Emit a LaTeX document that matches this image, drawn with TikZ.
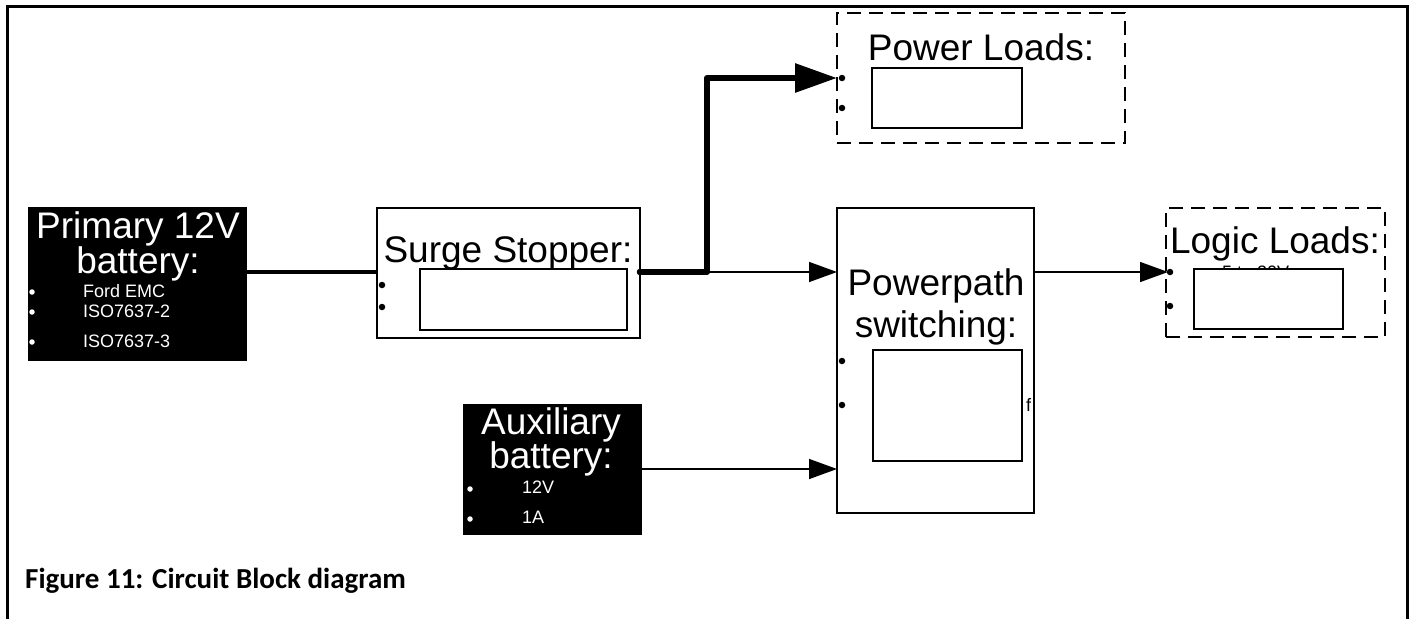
\documentclass[tikz,border=0pt]{standalone}
\usepackage{fontspec}
\setmainfont{Liberation Sans}
\newfontfamily\capfont{Carlito}
\usetikzlibrary{arrows.meta}
\begin{document}
\begin{tikzpicture}[x=1pt,y=-1pt,
  blk/.style={fill=black, draw=none, inner sep=0pt, outer sep=0pt, anchor=north west},
  box/.style={draw, line width=1.4pt, fill=white, inner sep=0pt, outer sep=0pt, anchor=north west},
  dbox/.style={draw, line width=1.8pt, dash pattern=on 14pt off 8pt, inner sep=0pt, outer sep=0pt, anchor=north west},
  ttl/.style={font=\fontsize{37}{37}\selectfont, anchor=base, inner sep=0pt},
  sml/.style={font=\fontsize{18}{18}\selectfont, anchor=base west, inner sep=0pt},
  pinpt/.style={circle, fill=black, minimum size=6.5pt, inner sep=0pt},
  bul/.style={circle, fill=white, minimum size=5.5pt, inner sep=0pt},
  wire/.style={line width=1.5pt},
  arr/.style={-{Triangle[length=28pt,width=20pt]}},
  bigarr/.style={-{Triangle[length=42pt,width=28pt]}}
]
\useasboundingbox (0,0) rectangle (1413,619);
% frame
\draw[line width=3pt] (7.5,619) -- (7.5,6) -- (1407,6) -- (1407,619);

% primary battery
\node[blk, minimum width=219pt, minimum height=154pt] (prim) at (28,207) {};
\node[ttl, text=white] (primt1) at (138,238) {Primary 12V};
\node[ttl, text=white] (primt2) at (138,273) {battery:};
\node[bul] (pb1) at (32,292) {};
\node[bul] (pb2) at (32,312) {};
\node[bul] (pb3) at (32,342) {};
\node[sml, text=white] (ps1) at (83,297) {Ford EMC};
\node[sml, text=white] (ps2) at (83,317) {ISO7637-2};
\node[sml, text=white] (ps3) at (83,347) {ISO7637-3};

% auxiliary battery
\node[blk, minimum width=179pt, minimum height=131pt] (aux) at (463,404) {};
\node[ttl, text=white] (auxt1) at (551,434) {Auxiliary};
\node[ttl, text=white] (auxt2) at (551,468) {battery:};
\node[bul] (ab1) at (470,489) {};
\node[bul] (ab2) at (470,519) {};
\node[sml, text=white] (as1) at (522,493) {12V};
\node[sml, text=white] (as2) at (522,523) {1A};

% surge stopper
\node[box, minimum width=263pt, minimum height=130pt] (surge) at (377,208) {};
\node[box, minimum width=207pt, minimum height=61pt] (surgein) at (420,269) {};
\node[ttl] (surget) at (508,262) {Surge Stopper:};
\node[pinpt] (sp1) at (382,285) {};
\node[pinpt] (sp2) at (382,307) {};

% power loads
\node[dbox, minimum width=288pt, minimum height=130pt] (powl) at (837,13) {};
\node[box, minimum width=150pt, minimum height=60pt] (powlin) at (872,68) {};
\node[ttl] (powlt) at (981,60) {Power Loads:};

% powerpath
\node[box, minimum width=197pt, minimum height=305pt] (pp) at (837,208) {};
\node[box, minimum width=149pt, minimum height=111pt] (ppin) at (873,350) {};
\node[ttl] (ppt1) at (936,295) {Powerpath};
\node[ttl] (ppt2) at (936,337) {switching:};
\node[pinpt] (pq1) at (842,361) {};
\node[pinpt] (pq2) at (842,405) {};
\node[sml] (ppf) at (1026,411) {f};

% logic loads
\node[dbox, minimum width=219pt, minimum height=129pt] (logl) at (1166,208) {};
\node[sml] (loglv) at (1222,278) {5 to 20V};
\node[box, minimum width=149pt, minimum height=60pt] (loglin) at (1194,269) {};
\node[ttl] (loglt) at (1275,253) {Logic Loads:};

% connection coordinates
\coordinate (j) at (707,272);
\coordinate (sout) at (640,272);
\coordinate (pwin) at (837,78);
\coordinate (ppin1) at (837,272);
\coordinate (ppin2) at (837,469);
\coordinate (lgin) at (1168,272);

% connectors
\draw[line width=4.5pt] (prim.east |- j) -- (surge.west |- j);
\draw[line width=6pt, line join=round, line cap=round, bigarr] (sout) -- (j) |- (pwin);
\draw[wire, arr] (j) -- (ppin1);
\draw[wire, arr] (aux.east |- ppin2) -- (ppin2);
\draw[wire, arr] (pp.east |- lgin) -- (lgin);

% pins on top
\node[pinpt] (so) at (sout) {};
\node[pinpt] (pw1) at (842,78) {};
\node[pinpt] (pw2) at (842,108) {};
\node[pinpt] (lg1) at (1170,272) {};
\node[pinpt] (lg2) at (1170,306) {};

% caption
\node[font=\capfont\bfseries\fontsize{29}{29}\selectfont, anchor=base west, inner sep=0pt] (cap) at (25,588) {Figure 11: Circuit Block diagram};
\end{tikzpicture}
\end{document}
